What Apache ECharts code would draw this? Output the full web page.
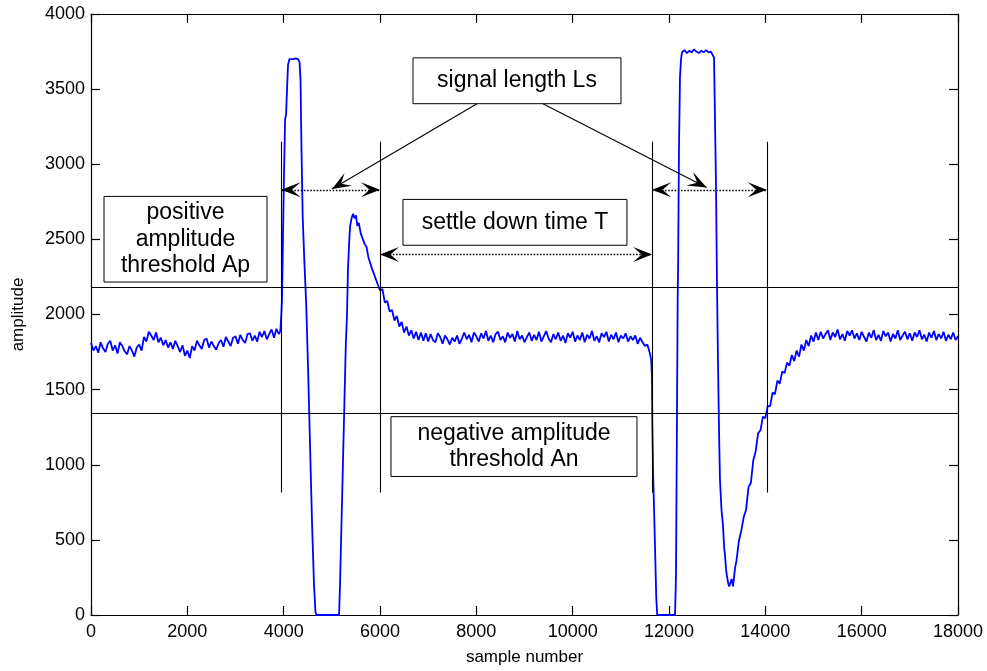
<!DOCTYPE html>
<html><head><meta charset="utf-8">
<script src="https://cdn.jsdelivr.net/npm/echarts@6/dist/echarts.min.js"></script>
<style>html,body{margin:0;padding:0;background:#fff}#c{width:987px;height:671px}</style>
</head><body><div id="c"></div>
<script>
// ---- signal values: [sample number, amplitude] ----
const baselineA = [[0,1810],[50,1760],[100,1790],[150,1745],[200,1815],[250,1775],[300,1750],[350,1805],[400,1825],[450,1760],[500,1795],[550,1740],[600,1815],[650,1790],[700,1755],[750,1735],[800,1790],[850,1760],[900,1720],[950,1780],[1000,1800],[1050,1760],[1100,1850],[1150,1820],[1200,1885],[1250,1860],[1300,1830],[1350,1880],[1400,1815],[1450,1845],[1500,1795],[1550,1830],[1600,1780],[1650,1815],[1700,1770],[1750,1825],[1800,1790],[1850,1750],[1900,1795],[1950,1725],[2000,1760],[2050,1710],[2100,1790],[2150,1760],[2200,1825],[2250,1795],[2300,1770],[2350,1830],[2400,1840],[2450,1780],[2500,1820],[2550,1790],[2600,1765],[2650,1810],[2700,1830],[2750,1785],[2800,1850],[2850,1820],[2900,1790],[2950,1845],[3000,1855],[3050,1805],[3100,1865],[3150,1830],[3200,1810],[3250,1870],[3300,1875],[3350,1825],[3400,1860],[3450,1820],[3500,1885],[3550,1850],[3600,1890],[3650,1835],[3700,1870],[3750,1900],[3800,1845],[3850,1905],[3900,1870]];
const pulse1 = [[3930,1890],[3950,1990],[3965,2100],[3985,2500],[4005,2900],[4030,3300],[4050,3330],[4070,3500],[4090,3660],[4120,3700],[4160,3705],[4200,3700],[4250,3705],[4300,3700],[4330,3680],[4350,3560],[4370,3100],[4395,2650],[4430,2350],[4470,2050],[4510,1600],[4550,1100],[4590,600],[4630,200],[4660,20],[4680,0],[4800,0],[4950,0],[5100,0],[5150,0],[5170,200],[5200,600],[5230,1000],[5260,1400],[5290,1800],[5315,2000],[5335,2300],[5360,2480],[5380,2590],[5410,2640],[5440,2670]];
const recovery1 = [[5470,2640],[5500,2660],[5530,2590],[5560,2610],[5600,2540],[5640,2530],[5680,2470],[5720,2450],[5760,2380],[5800,2370],[5840,2300],[5880,2300],[5920,2230],[5960,2220],[6000,2160],[6050,2170],[6100,2080],[6150,2090],[6200,2020],[6250,2030],[6300,1960],[6350,1990],[6400,1920],[6450,1950],[6500,1880],[6550,1920],[6600,1860],[6650,1895],[6700,1840],[6750,1885],[6800,1830],[6850,1880],[6900,1825],[6950,1875],[7000,1820]];
const baselineB = [[7050,1870],[7100,1830],[7150,1815],[7200,1875],[7250,1850],[7300,1805],[7350,1860],[7400,1835],[7450,1800],[7500,1845],[7550,1820],[7600,1860],[7650,1805],[7700,1840],[7750,1880],[7800,1835],[7850,1865],[7900,1815],[7950,1880],[8000,1855],[8050,1820],[8100,1875],[8150,1840],[8200,1890],[8250,1825],[8300,1860],[8350,1815],[8400,1870],[8450,1885],[8500,1830],[8550,1855],[8600,1815],[8650,1880],[8700,1845],[8750,1870],[8800,1820],[8850,1890],[8900,1835],[8950,1860],[9000,1815],[9050,1850],[9100,1880],[9150,1825],[9200,1865],[9250,1830],[9300,1885],[9350,1820],[9400,1855],[9450,1890],[9500,1840],[9550,1815],[9600,1870],[9650,1835],[9700,1880],[9750,1825],[9800,1860],[9850,1810],[9900,1875],[9950,1845],[10000,1885],[10050,1820],[10100,1860],[10150,1830],[10200,1880],[10250,1815],[10300,1865],[10350,1840],[10400,1890],[10450,1825],[10500,1855],[10550,1815],[10600,1875],[10650,1850],[10700,1885],[10750,1820],[10800,1865],[10850,1835],[10900,1880],[10950,1815],[11000,1860],[11050,1840],[11100,1875],[11150,1820],[11200,1855],[11250,1830],[11300,1860],[11350,1805],[11400,1845],[11450,1815]];
const pulse2 = [[11500,1790],[11550,1800],[11600,1745],[11630,1700],[11645,1590],[11655,1250],[11670,950],[11690,700],[11710,450],[11735,120],[11755,0],[11900,0],[12050,0],[12125,0],[12145,260],[12166,1330],[12180,2100],[12190,2350],[12207,3100],[12228,3580],[12250,3700],[12270,3745],[12320,3760],[12370,3740],[12420,3755],[12470,3745],[12520,3765],[12570,3750],[12620,3740],[12670,3755],[12720,3745],[12770,3760],[12820,3745],[12870,3750],[12910,3740],[12935,3710],[12955,3300],[12975,2880],[12996,2220],[13017,1690],[13040,1200],[13058,900],[13090,700],[13120,600],[13145,450],[13162,400],[13185,300],[13203,260],[13230,210],[13250,190],[13266,200],[13285,180]];
const recovery2 = [[13300,240],[13330,190],[13370,310],[13400,360],[13450,490],[13500,560],[13550,650],[13600,700],[13650,850],[13700,880],[13750,1030],[13800,1090],[13850,1210],[13900,1230],[13950,1320],[14000,1310],[14050,1390],[14100,1390],[14150,1480],[14200,1470],[14250,1560],[14300,1540],[14350,1620],[14400,1610],[14450,1680],[14500,1660],[14550,1730],[14600,1690],[14650,1760],[14700,1720],[14750,1800],[14800,1760],[14850,1830],[14900,1790],[14950,1860],[15000,1820],[15050,1880],[15100,1830]];
const baselineC = [[15150,1885],[15200,1840],[15250,1870],[15300,1895],[15350,1830],[15400,1880],[15450,1850],[15500,1900],[15550,1835],[15600,1870],[15650,1825],[15700,1890],[15750,1860],[15800,1895],[15850,1840],[15900,1875],[15950,1830],[16000,1885],[16050,1850],[16100,1820],[16150,1880],[16200,1845],[16250,1895],[16300,1830],[16350,1865],[16400,1825],[16450,1890],[16500,1855],[16550,1880],[16600,1820],[16650,1870],[16700,1840],[16750,1895],[16800,1830],[16850,1860],[16900,1885],[16950,1835],[17000,1875],[17050,1825],[17100,1880],[17150,1850],[17200,1895],[17250,1835],[17300,1865],[17350,1820],[17400,1880],[17450,1845],[17500,1890],[17550,1830],[17600,1870],[17650,1840],[17700,1885],[17750,1825],[17800,1865],[17850,1835],[17900,1880],[17950,1830],[18000,1855]];

// axis ranges
const xRange = [0, 18000, 2000];
const yRange = [0, 4000, 500];
// thresholds and annotation values (data units)
const thresholdAp = 2180;
const thresholdAn = 1345;
const boundaries = [3955, 6000, 11650, 14030];
const boundarySpan = [815, 3150];
const lsArrowLevel = 2830;
const tArrowLevel = 2400;

const signal = [].concat(baselineA, pulse1, recovery1, baselineB, pulse2, recovery2, baselineC);

const FONT = "'Liberation Sans', Arial, Helvetica, sans-serif";
const ARROW = 'path://M0,0 L8,20 L0,11 L-8,20 Z';
function head(coord) {
  return { coord: coord, symbol: ARROW, symbolSize: [15, 19], symbolOffset: [0, 9.5] };
}
function plain(coord) { return { coord: coord, symbol: 'none' }; }

const solid = { type: 'solid', color: '#000', width: 1.1 };
const dotted = { type: [1.6, 1.6], color: '#000', width: 1.3 };

const markLines = [
  { yAxis: thresholdAp, lineStyle: solid, symbol: 'none' },
  { yAxis: thresholdAn, lineStyle: solid, symbol: 'none' }
];
boundaries.forEach(function (b) {
  markLines.push([Object.assign(plain([b, boundarySpan[0]]), { lineStyle: solid }), plain([b, boundarySpan[1]])]);
});
markLines.push([Object.assign(head([boundaries[0], lsArrowLevel]), { lineStyle: dotted }), head([boundaries[1], lsArrowLevel])]);
markLines.push([Object.assign(head([boundaries[2], lsArrowLevel]), { lineStyle: dotted }), head([boundaries[3], lsArrowLevel])]);
markLines.push([Object.assign(head([boundaries[1], tArrowLevel]), { lineStyle: dotted }), head([boundaries[2], tArrowLevel])]);
markLines.push([Object.assign(plain([8013, 3403]), { lineStyle: solid }), head([5003, 2835])]);
markLines.push([Object.assign(plain([9383, 3403]), { lineStyle: solid }), head([12780, 2846])]);

const boxStyle = { color: 'rgba(255,255,255,0)', borderColor: '#000', borderWidth: 1 };
const boxLabel = { show: true, position: 'inside', color: '#000', fontSize: 23, lineHeight: 26.5, fontFamily: FONT };
const boxes = [
  [{ coord: [270, 2786], name: 'positive\namplitude\nthreshold Ap' }, { coord: [3654, 2216] }],
  [{ coord: [6685, 3708], name: 'signal length Ls' }, { coord: [11003, 3403] }],
  [{ coord: [6477, 2766], name: 'settle down time T' }, { coord: [11127, 2461] }],
  [{ coord: [6228, 1320], name: 'negative amplitude\nthreshold An' }, { coord: [11335, 922] }]
];

const axisCommon = {
  type: 'value',
  axisLine: { show: true, onZero: false, lineStyle: { color: '#000', width: 1.2 } },
  axisTick: { show: true, inside: true, length: 9, lineStyle: { color: '#000', width: 1.2 } },
  splitLine: { show: false }
};
const plainNumber = function (v) { return String(v); };

const chart = echarts.init(document.getElementById('c'), null, { renderer: 'canvas' });
chart.setOption({
  animation: false,
  backgroundColor: '#fff',
  grid: { left: 91, right: 29, top: 14, bottom: 54, containLabel: false },
  xAxis: [
    Object.assign({}, axisCommon, {
      min: xRange[0], max: xRange[1], interval: xRange[2], position: 'bottom',
      name: 'sample number', nameLocation: 'middle', nameGap: 34,
      nameTextStyle: { color: '#000', fontSize: 17, fontFamily: FONT },
      axisLabel: { color: '#000', fontSize: 18, fontFamily: FONT, margin: 8, formatter: plainNumber }
    }),
    Object.assign({}, axisCommon, {
      min: xRange[0], max: xRange[1], interval: xRange[2], position: 'top',
      axisLabel: { show: false }
    })
  ],
  yAxis: [
    Object.assign({}, axisCommon, {
      min: yRange[0], max: yRange[1], interval: yRange[2], position: 'left',
      name: 'amplitude', nameLocation: 'middle', nameGap: 64, nameRotate: 90,
      nameTextStyle: { color: '#000', fontSize: 17, fontFamily: FONT },
      axisLabel: { color: '#000', fontSize: 18, fontFamily: FONT, margin: 6, formatter: plainNumber }
    }),
    Object.assign({}, axisCommon, {
      min: yRange[0], max: yRange[1], interval: yRange[2], position: 'right',
      axisLabel: { show: false }
    })
  ],
  series: [{
    type: 'line',
    data: signal,
    xAxisIndex: 0, yAxisIndex: 0,
    showSymbol: false,
    symbol: 'none',
    silent: true,
    lineStyle: { color: '#0000ff', width: 1.8 },
    markLine: {
      silent: true,
      animation: false,
      symbol: 'none',
      label: { show: false },
      emphasis: { disabled: true },
      data: markLines
    },
    markArea: {
      silent: true,
      itemStyle: boxStyle,
      label: boxLabel,
      emphasis: { disabled: true },
      data: boxes
    }
  }]
});
</script>
</body></html>
